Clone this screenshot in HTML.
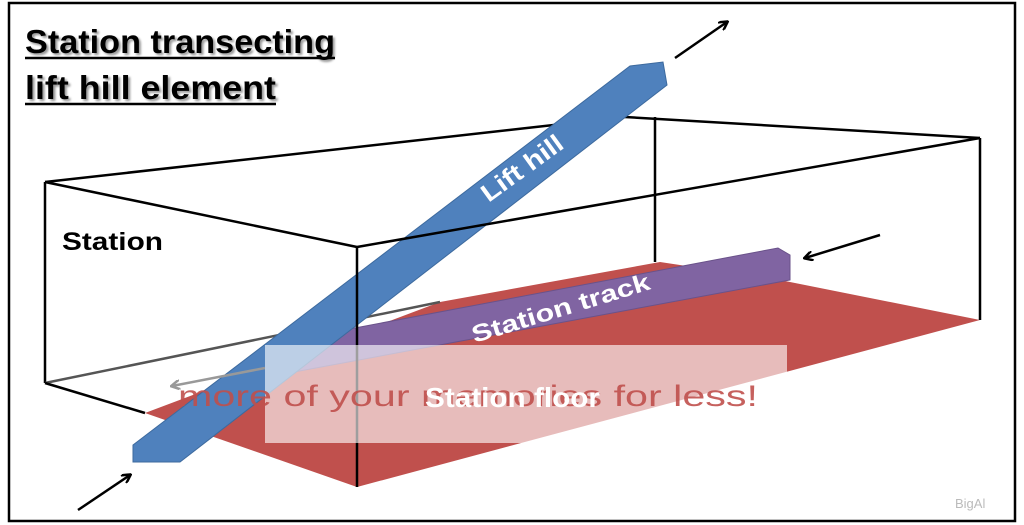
<!DOCTYPE html>
<html><head><meta charset="utf-8"><style>
body{margin:0;background:#fff;}
svg{display:block;font-family:"Liberation Sans",sans-serif;}
</style></head><body>
<svg width="1024" height="525" viewBox="0 0 1024 525">
<defs>
<marker id="ah" markerWidth="10" markerHeight="10" refX="8" refY="5" orient="auto" markerUnits="userSpaceOnUse"><path d="M0,0 L9,5 L0,10" fill="none" stroke="#000" stroke-width="2.5"/></marker>
<marker id="ahg" markerWidth="10" markerHeight="10" refX="8" refY="5" orient="auto" markerUnits="userSpaceOnUse"><path d="M0,0 L9,5 L0,10" fill="none" stroke="#999" stroke-width="2.5"/></marker>
<clipPath id="wm"><rect x="0" y="0" width="787" height="525"/></clipPath>
</defs>
<rect x="9" y="3" width="1006" height="518" fill="#fff" stroke="#000" stroke-width="2.5"/>
<polygon points="145,413 357,487 980,320 780,280 660,262 440,302" fill="#c0504d"/>
<g stroke="#000" stroke-width="2.5" fill="none">
<line x1="45" y1="182" x2="625" y2="117"/>
<line x1="625" y1="117" x2="980" y2="138"/>
<line x1="655" y1="117" x2="655" y2="262"/>
<line x1="45" y1="182" x2="45" y2="383"/>
<line x1="45" y1="383" x2="440" y2="302" stroke="#555"/>
</g>
<polygon points="265,345 778,248 790,255 790,280 278,375 265,370" fill="#8064a2" stroke="#6a528a"/>
<text font-size="24" font-weight="bold" fill="#fff" transform="translate(563,316) rotate(-17)" text-anchor="middle" textLength="185" lengthAdjust="spacingAndGlyphs">Station track</text>
<polygon points="133,445 630,66 663,62 667,85 180,462 133,462" fill="#4f81bd" stroke="#3d6a9e"/>
<text font-size="25" font-weight="bold" fill="#fff" transform="translate(527,175) rotate(-36)" text-anchor="middle" textLength="95" lengthAdjust="spacingAndGlyphs">Lift hill</text>
<g stroke="#000" stroke-width="2.5" fill="none">
<line x1="45" y1="182" x2="357" y2="247"/>
<line x1="357" y1="247" x2="980" y2="138"/>
<line x1="357" y1="247" x2="357" y2="487"/>
<line x1="980" y1="138" x2="980" y2="320"/>
<line x1="45" y1="383" x2="145" y2="413"/>
</g>
<g stroke="#000" stroke-width="2.5">
<line x1="675" y1="58" x2="727" y2="22" marker-end="url(#ah)"/>
<line x1="880" y1="235" x2="805" y2="258" marker-end="url(#ah)"/>
<line x1="78" y1="510" x2="130" y2="475" marker-end="url(#ah)"/>
</g>
<line x1="265" y1="368" x2="172" y2="386" stroke="#999" stroke-width="2.5" marker-end="url(#ahg)"/>
<rect x="265" y="345" width="522" height="98" fill="#fff" opacity="0.62"/>
<text x="178" y="406" font-size="30" fill="#c0504d" opacity="0.9" textLength="580" lengthAdjust="spacingAndGlyphs" clip-path="url(#wm)">more of your memories for less!</text>
<text x="425" y="407" font-size="28" font-weight="bold" fill="#fff" textLength="175" lengthAdjust="spacingAndGlyphs">Station floor</text>
<text x="62" y="250" font-size="25" font-weight="bold" fill="#000" textLength="101" lengthAdjust="spacingAndGlyphs">Station</text>
<g font-size="33" font-weight="bold" fill="#000" style="text-shadow:2px 2px 2px #999">
<text x="25" y="53" textLength="310" lengthAdjust="spacingAndGlyphs">Station transecting</text>
<text x="25" y="99" textLength="251" lengthAdjust="spacingAndGlyphs">lift hill element</text>
</g>
<line x1="25" y1="58" x2="335" y2="58" stroke="#000" stroke-width="2.5"/>
<line x1="25" y1="104" x2="276" y2="104" stroke="#000" stroke-width="2.5"/>
<text x="955" y="508" font-size="13" fill="#bbb">BigAl</text>
</svg>
</body></html>
